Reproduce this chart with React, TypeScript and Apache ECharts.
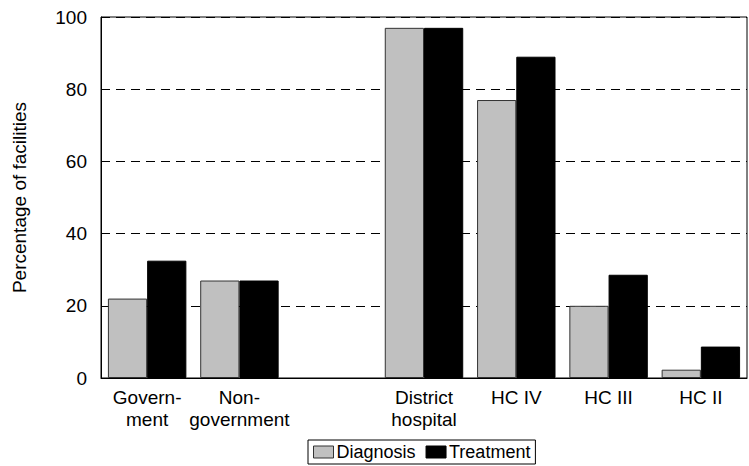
import React, { useEffect, useRef } from "react";
import * as echarts from "echarts";

const categories = ["Govern-\nment", "Non-\ngovernment", "", "District\nhospital", "HC IV", "HC III", "HC II"];
const diagnosis = [22, 27, null, 97, 77, 20, 2.3];
const treatment = [32.5, 27, null, 97, 89, 28.6, 8.7];
const seriesNames = ["Diagnosis", "Treatment"];

const FONT = "'Liberation Sans', Arial, sans-serif";

export default function App() {
  const ref = useRef<HTMLDivElement>(null);
  useEffect(() => {
    if (!ref.current) return;
    const chart = echarts.init(ref.current, null, { renderer: "svg" });
    chart.setOption({
      animation: false,
      backgroundColor: "#fff",
      textStyle: { fontFamily: FONT },
      grid: {
        left: 101,
        top: 17,
        right: 2,
        bottom: 88,
        show: true,
        borderColor: "#000",
        borderWidth: 1,
        containLabel: false,
      },
      legend: {
        left: 308,
        top: 440,
        padding: [3, 5, 3, 5],
        itemWidth: 20,
        itemHeight: 12,
        itemGap: 10,
        borderColor: "#000",
        borderWidth: 1,
        icon: "rect",
        textStyle: { fontSize: 18, color: "#000", fontFamily: FONT, padding: [0, 0, 0, -2] },
        data: [
          { name: seriesNames[0], itemStyle: { color: "#c0c0c0", borderColor: "#333", borderWidth: 1 } },
          { name: seriesNames[1], itemStyle: { color: "#000", borderColor: "#000", borderWidth: 1 } },
        ],
      },
      xAxis: {
        type: "category",
        data: categories,
        axisLine: { lineStyle: { color: "#000", width: 1 } },
        axisTick: { show: false },
        axisLabel: {
          color: "#000",
          fontSize: 19,
          fontFamily: FONT,
          lineHeight: 22,
          margin: 8,
          interval: 0,
        },
      },
      yAxis: {
        type: "value",
        min: 0,
        max: 100,
        interval: 20,
        name: "Percentage of facilities",
        nameLocation: "middle",
        nameGap: 72,
        nameTextStyle: { fontSize: 19, color: "#000", fontFamily: FONT },
        axisLine: { show: true, lineStyle: { color: "#000", width: 1 } },
        axisTick: { show: false },
        axisLabel: { color: "#000", fontSize: 19, fontFamily: FONT, margin: 14 },
        splitLine: { show: true, lineStyle: { color: "#000", width: 1, type: [9, 6] } },
      },
      series: [
        {
          name: seriesNames[0],
          type: "bar",
          data: diagnosis,
          barCategoryGap: "15%",
          barGap: "0%",
          itemStyle: { color: "#c0c0c0", borderColor: "#333", borderWidth: 1 },
        },
        {
          name: seriesNames[1],
          type: "bar",
          data: treatment,
          barCategoryGap: "15%",
          barGap: "0%",
          itemStyle: { color: "#000", borderColor: "#000", borderWidth: 1 },
        },
      ],
    });
    return () => chart.dispose();
  }, []);
  return (
    <div
      ref={ref}
      style={{ position: "fixed", left: 0, top: 0, width: 749, height: 466 }}
    />
  );
}
